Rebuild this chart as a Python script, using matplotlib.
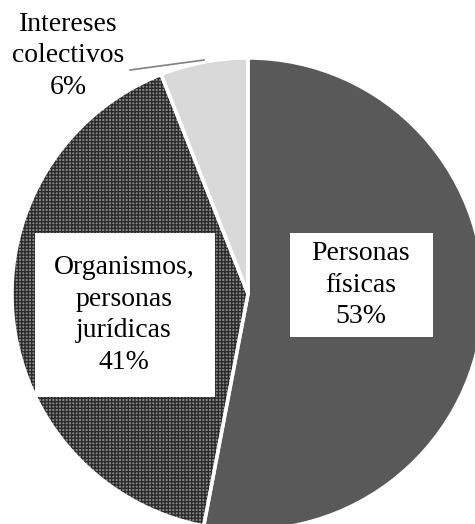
import matplotlib.pyplot as plt
from matplotlib.patches import Rectangle

labels = ["Personas\nfísicas", "Organismos,\npersonas\njurídicas", "Intereses\ncolectivos"]
values = [53, 41, 6]
colors = ["#595959", "#8a8a8a", "#d9d9d9"]
hatches = [None, "+++++", None]

W, H = 475, 524
plt.rcParams['font.family'] = ['Liberation Serif', 'DejaVu Serif']

fig = plt.figure(figsize=(W / 100, H / 100), dpi=100)
ax = fig.add_axes([0, 0, 1, 1])

center = (248, H - 294)
radius = 236

# filled wedges (hatch drawn in edge colour, so no outline here)
wedges, _ = ax.pie(values, colors=colors, startangle=90, counterclock=False,
                   center=center, radius=radius, frame=True,
                   wedgeprops=dict(linewidth=0, edgecolor="#2a2a2a"))
for w, h in zip(wedges, hatches):
    if h:
        w.set_hatch(h)
# white separators on top
ax.pie(values, colors=["none"] * 3, startangle=90, counterclock=False,
       center=center, radius=radius, frame=True,
       wedgeprops=dict(linewidth=2.5, edgecolor="white", fill=False))
ax.set_xlim(0, W)
ax.set_ylim(0, H)
ax.axis('off')
ax.set_aspect('equal')

fs = 20
pct = [f"{v}%" for v in values]

# label boxes
ax.add_patch(Rectangle((290, H - 337), 143, 104, facecolor="white", edgecolor="none", zorder=3))
ax.add_patch(Rectangle((35, H - 397), 180, 164, facecolor="white", edgecolor="none", zorder=3))

ax.text(361, H - 285, labels[0] + "\n" + pct[0], ha="center", va="center",
        fontsize=fs, zorder=4, linespacing=1.35)
ax.text(124, H - 315, labels[1] + "\n" + pct[1], ha="center", va="center",
        fontsize=fs, zorder=4, linespacing=1.35)
ax.text(68, H - 56, labels[2] + "\n" + pct[2], ha="center", va="center",
        fontsize=fs, zorder=4, linespacing=1.35)
ax.plot([130, 204], [H - 70, H - 60], color="#808080", lw=1.2, zorder=4)

fig.savefig("out.png", dpi=100)
